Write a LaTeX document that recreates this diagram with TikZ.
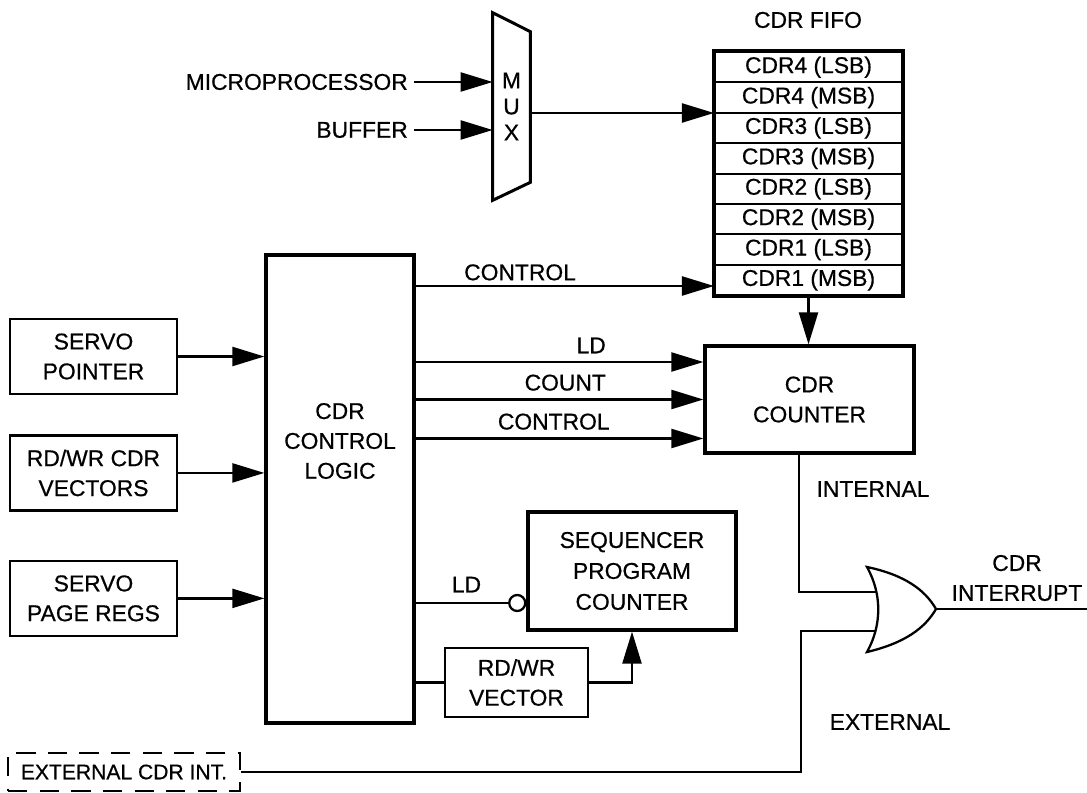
\documentclass[tikz,border=0pt]{standalone}
\usepackage{fontspec}
\setmainfont{Liberation Sans}[FakeBold=0.6]
\usetikzlibrary{arrows.meta, positioning}

\begin{document}
\begin{tikzpicture}[x=0.02cm, y=-0.02cm,
    font=\fontsize{13}{17}\selectfont,
    box/.style={rectangle, draw, line width=1.4pt, align=center, inner sep=0pt},
    heavy/.style={box, line width=1.9pt},
    fiforow/.style={rectangle, draw, line width=1.2pt, minimum width=3.74cm, minimum height=0.608cm, inner sep=0pt},
    wire/.style={line width=1.3pt},
    arrow/.style={wire, -{Triangle[length=0.64cm, width=0.38cm]}},
    bubble/.style={circle, draw, line width=1.3pt, fill=white, inner sep=0pt, minimum size=0.32cm}]

    \useasboundingbox (0,0) rectangle (1087,793);

    % mux with its two inputs
    \node (mux) [minimum width=0.74cm, minimum height=3.74cm, inner sep=0pt, align=center, font=\fontsize{13}{14.8}\selectfont] at (511.5,106.5) {M\\U\\X};
    \draw [line width=1.7pt] (mux.north west) -- ([yshift=-0.38cm]mux.north east) -- ([yshift=0.36cm]mux.south east) -- (mux.south west) -- cycle;
    \node (micro) [anchor=east] at (414,82) {MICROPROCESSOR};
    \node (buffer) [anchor=east] at (414,130) {BUFFER};
    \draw [arrow] (micro.east) -- (micro.east -| mux.west);
    \draw [arrow] (buffer.east) -- (buffer.east -| mux.west);

    % fifo
    \node (fifolbl) at (808,20) {CDR FIFO};
    \foreach \cell [count=\i] in {CDR4 (LSB), CDR4 (MSB), CDR3 (LSB), CDR3 (MSB), CDR2 (LSB), CDR2 (MSB), CDR1 (LSB), CDR1 (MSB)}
        \node (row\i) [fiforow] at (808.5, {52+30.4*\i-15.2}) {\cell};
    \draw [line width=1.9pt] (row1.north west) rectangle (row8.south east);
    \draw [arrow] ([yshift=-0.13cm]mux.east) -- ([yshift=-0.13cm]mux.east -| row1.west);

    % left column
    \node (servoptr) [box, minimum width=3.34cm, minimum height=1.5cm] at (93.5,356.5) {SERVO\\POINTER};
    \node (rdwrcdr) [box, minimum width=3.34cm, minimum height=1.5cm, below=0.78cm of servoptr] {RD/WR CDR\\VECTORS};
    \node (servopage) [box, minimum width=3.34cm, minimum height=1.5cm, below=0.96cm of rdwrcdr] {SERVO\\PAGE REGS};

    \node (logic) [heavy, minimum width=2.96cm, minimum height=9.36cm] at (340,489) {};
    \node (logictxt) [align=center] at (340,441) {CDR\\CONTROL\\LOGIC};

    \draw [arrow] (servoptr.east) -- (servoptr.east -| logic.west);
    \draw [arrow] (rdwrcdr.east) -- (rdwrcdr.east -| logic.west);
    \draw [arrow] (servopage.east) -- (servopage.east -| logic.west);

    % counter
    \node (counter) [heavy, minimum width=4.18cm, minimum height=2.14cm] at (809.5,399.5) {CDR\\COUNTER};
    \coordinate (ctl) at ([yshift=-0.12cm]row8.west);
    \coordinate (ldin) at ([yshift=0.75cm]counter.west);
    \coordinate (cntin) at (counter.west);
    \coordinate (ctlin) at ([yshift=-0.78cm]counter.west);

    \draw [arrow] (logic.east |- ctl) -- node[above, inner sep=2.5pt, pos=0.35] {CONTROL} (ctl);
    \draw [arrow] (row8.south) -- (row8.south |- counter.north);
    \draw [arrow] (logic.east |- ldin) -- node[above=1pt, pos=0.61] {LD} (ldin);
    \draw [arrow] (logic.east |- cntin) -- node[above=1pt, pos=0.52] {COUNT} (cntin);
    \draw [arrow] (logic.east |- ctlin) -- node[above=1pt, pos=0.48] {CONTROL} (ctlin);

    % sequencer
    \node (seq) [heavy, minimum width=4.16cm, minimum height=2.36cm, font=\fontsize{13}{17.6}\selectfont] at (632,571) {SEQUENCER\\PROGRAM\\COUNTER};
    \node (bub) [bubble, anchor=east] at ([yshift=-0.64cm]seq.west) {};
    \node (vec) [box, minimum width=2.86cm, minimum height=1.38cm] at (516.5,682.5) {RD/WR\\VECTOR};

    \draw [wire] (logic.east |- bub.west) -- node[above=2pt, pos=0.55] {LD} (bub.west);
    \draw [wire] (logic.east |- vec.west) -- (vec.west);
    \draw [arrow] (vec.east) -| (seq.south);

    % or gate
    \coordinate (ortop) at (867,567);
    \coordinate (orbot) at (867,652);
    \coordinate (ortip) at (936,609);
    \coordinate (orin1) at (876,592);
    \coordinate (orin2) at (875,631);
    \coordinate (orout) at (1090,609);
    \draw [wire] (ortop) .. controls (905,575) and (925,590) .. (ortip)
        .. controls (925,628) and (905,643) .. (orbot)
        .. controls (882,625) and (882,594) .. cycle;
    \draw [wire] (ortip) -- (orout);
    \node (irqlbl) [align=center] at (1017,578) {CDR\\INTERRUPT};

    \draw [wire] ([xshift=-0.21cm]counter.south) |- (orin1);
    \node (intlbl) at (873,489) {INTERNAL};

    % external interrupt
    \node (extint) [box, dash pattern=on 11pt off 7pt, minimum width=4.64cm, minimum height=0.76cm, font=\fontsize{12}{15}\selectfont] at (124,772) {EXTERNAL CDR INT.};
    \coordinate (extbend) at (801,772);
    \draw [wire] (extint.east) -- (extbend) |- (orin2);
    \node (extlbl) at (890,722) {EXTERNAL};

\end{tikzpicture}
\end{document}
